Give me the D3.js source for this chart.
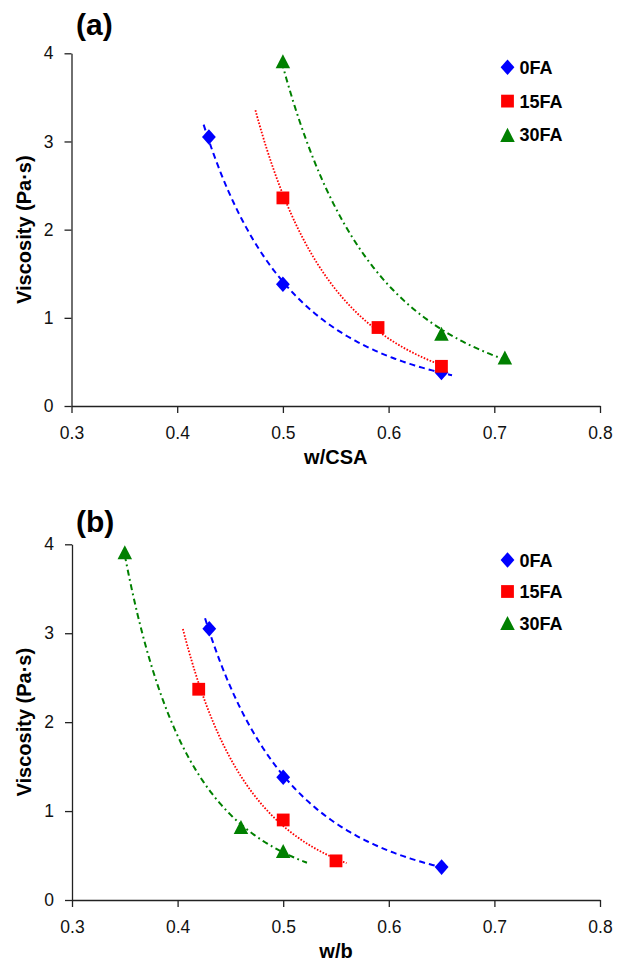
<!DOCTYPE html>
<html>
<head>
<meta charset="utf-8">
<script src="https://cdn.jsdelivr.net/npm/d3@7"></script>
<style>
    body { margin: 0; background: #fff; }
    svg { display: block; font-family: "Liberation Sans", Arial, sans-serif; }
    .domain, .tick line { stroke: #222; stroke-width: 1.3; }
</style>
</head>
<body>
<div class="svg-container"></div>
<script>
// Series names and ticks shared by both panels.
const seriesNames = ["0FA", "15FA", "30FA"];
const xTicks = [0.3, 0.4, 0.5, 0.6, 0.7, 0.8];
const yTicks = [0, 1, 2, 3, 4];

// Panel (a): viscosity vs w/CSA.
const aX0FA = [0.43, 0.50, 0.65];
const aY0FA = [3.05, 1.38, 0.38];
const aX15FA = [0.50, 0.59, 0.65];
const aY15FA = [2.36, 0.89, 0.45];
const aX30FA = [0.50, 0.65, 0.71];
const aY30FA = [3.91, 0.82, 0.55];
// x-extent of each drawn trendline.
const aTrendRange = [[0.425, 0.66], [0.474, 0.65], [0.499, 0.71]];

// Panel (b): viscosity vs w/b.
const bX0FA = [0.43, 0.50, 0.65];
const bY0FA = [3.05, 1.38, 0.37];
const bX15FA = [0.42, 0.50, 0.55];
const bY15FA = [2.37, 0.90, 0.44];
const bX30FA = [0.35, 0.46, 0.50];
const bY30FA = [3.91, 0.82, 0.55];
const bTrendRange = [[0.426, 0.655], [0.405, 0.56], [0.35, 0.5225]];

const COLORS = ["#0000ff", "#ff0000", "#008000"];
const DASHES = ["6,4", "1.6,1.6", "6,3.5,1.8,3.5"];
const LINE_WIDTHS = [2, 1.8, 2];

// Excel-like marker shapes; "size" is the marker width in pixels.
const diamond = {
    draw(ctx, w) {
        const h = w * 1.13;
        ctx.moveTo(0, -h / 2);
        ctx.lineTo(w / 2, 0);
        ctx.lineTo(0, h / 2);
        ctx.lineTo(-w / 2, 0);
        ctx.closePath();
    },
};
const square = {
    draw(ctx, w) {
        ctx.rect(-w / 2, -w / 2, w, w);
    },
};
const triangle = {
    draw(ctx, w) {
        const h = w * 0.97;
        ctx.moveTo(0, -h / 2);
        ctx.lineTo(w / 2, h / 2);
        ctx.lineTo(-w / 2, h / 2);
        ctx.closePath();
    },
};
const SYMBOLS = [diamond, square, triangle];
const MARKER_SIZES = [13.8, 12.8, 14.5];

const svg = d3
    .select(".svg-container")
    .append("svg")
    .attr("width", 618)
    .attr("height", 964);

drawPanel({
    label: "(a)",
    labelY: 35,
    xTitle: "w/CSA",
    xs: [aX0FA, aX15FA, aX30FA],
    ys: [aY0FA, aY15FA, aY30FA],
    trendRange: aTrendRange,
    left: 71.5, right: 600, top: 53.3, bottom: 406,
    legendX: 507.5, legendY: 67.3, legendStep: 33.8,
});

drawPanel({
    label: "(b)",
    labelY: 532,
    xTitle: "w/b",
    xs: [bX0FA, bX15FA, bX30FA],
    ys: [bY0FA, bY15FA, bY30FA],
    trendRange: bTrendRange,
    left: 72, right: 600, top: 544.3, bottom: 900,
    legendX: 507.5, legendY: 560, legendStep: 31.5,
});

// Power-law trendline fitted in log space, as a spreadsheet would.
function powerFit(xs, ys) {
    const lx = xs.map(Math.log);
    const ly = ys.map(Math.log);
    const mx = d3.mean(lx);
    const my = d3.mean(ly);
    const b = d3.sum(lx, (v, i) => (v - mx) * (ly[i] - my)) / d3.sum(lx, (v) => (v - mx) ** 2);
    const a = Math.exp(my - b * mx);
    return (x) => a * Math.pow(x, b);
}

function drawPanel(cfg) {
    const x = d3.scaleLinear().domain([0.3, 0.8]).range([cfg.left, cfg.right]);
    const y = d3.scaleLinear().domain([0, 4]).range([cfg.bottom, cfg.top]);
    const g = svg.append("g");

    // Axes.
    g.append("g")
        .attr("transform", "translate(0," + cfg.bottom + ")")
        .call(d3.axisBottom(x).tickValues(xTicks).tickFormat(d3.format(".1f")).tickSize(7).tickSizeOuter(0))
        .call((ax) => ax.selectAll("text").attr("y", 21).attr("font-size", 17.5).attr("fill", "#111"));
    g.append("g")
        .attr("transform", "translate(" + cfg.left + ",0)")
        .call(d3.axisLeft(y).tickValues(yTicks).tickFormat(d3.format("d")).tickSize(7).tickSizeOuter(0))
        .call((ax) => ax.selectAll("text").attr("x", -18).attr("font-size", 17.5).attr("fill", "#111"));

    // Titles.
    g.append("text")
        .attr("x", (cfg.left + cfg.right) / 2)
        .attr("y", cfg.bottom + 58)
        .attr("text-anchor", "middle")
        .attr("font-size", 20)
        .attr("font-weight", "bold")
        .text(cfg.xTitle);
    g.append("text")
        .attr("transform", "translate(31," + (cfg.top + cfg.bottom) / 2 + ") rotate(-90)")
        .attr("text-anchor", "middle")
        .attr("font-size", 20)
        .attr("font-weight", "bold")
        .text("Viscosity (Pa\u00b7s)");
    g.append("text")
        .attr("x", 76)
        .attr("y", cfg.labelY)
        .attr("font-size", 30)
        .attr("font-weight", "bold")
        .text(cfg.label);

    // Trendlines.
    const line = d3.line().x((d) => x(d[0])).y((d) => y(d[1]));
    seriesNames.forEach((name, i) => {
        const f = powerFit(cfg.xs[i], cfg.ys[i]);
        const [x0, x1] = cfg.trendRange[i];
        const pts = d3.range(0, 101).map((k) => {
            const xv = x0 + (x1 - x0) * k / 100;
            return [xv, f(xv)];
        });
        g.append("path")
            .attr("d", line(pts))
            .attr("fill", "none")
            .attr("stroke", COLORS[i])
            .attr("stroke-width", LINE_WIDTHS[i])
            .attr("stroke-dasharray", DASHES[i]);
    });

    // Markers.
    seriesNames.forEach((name, i) => {
        g.append("g")
            .selectAll("path")
            .data(cfg.xs[i].map((v, k) => [v, cfg.ys[i][k]]))
            .join("path")
            .attr("transform", (d) => "translate(" + x(d[0]) + "," + y(d[1]) + ")")
            .attr("d", d3.symbol(SYMBOLS[i], MARKER_SIZES[i]))
            .attr("fill", COLORS[i]);
    });

    // Legend.
    const legend = g.append("g");
    seriesNames.forEach((name, i) => {
        const ly = cfg.legendY + i * cfg.legendStep;
        legend.append("path")
            .attr("transform", "translate(" + cfg.legendX + "," + ly + ")")
            .attr("d", d3.symbol(SYMBOLS[i], MARKER_SIZES[i]))
            .attr("fill", COLORS[i]);
        legend.append("text")
            .attr("x", cfg.legendX + 12)
            .attr("y", ly + 6.5)
            .attr("font-size", 18)
            .attr("font-weight", "bold")
            .text(name);
    });
}
</script>
</body>
</html>
